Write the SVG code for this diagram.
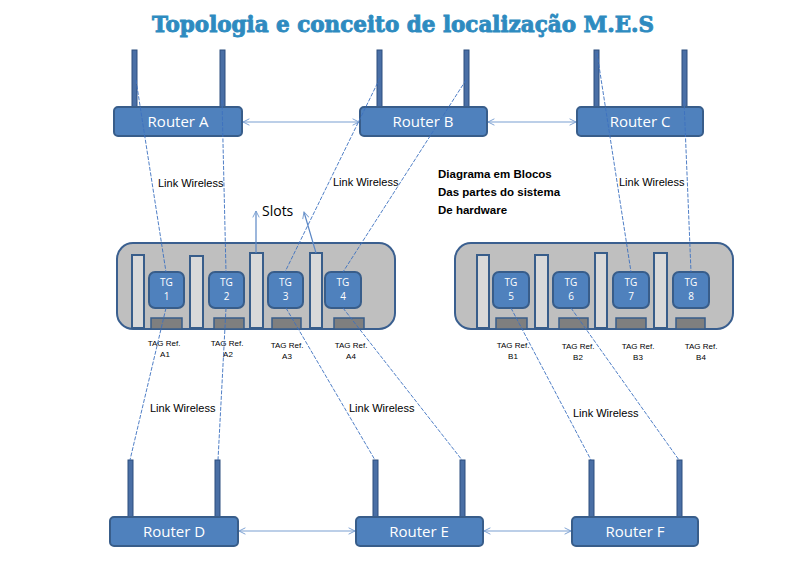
<svg xmlns="http://www.w3.org/2000/svg" width="806" height="570" viewBox="0 0 806 570">
<style>
.router{fill:#4f81bd;stroke:#385d8a;stroke-width:2}
.ant{fill:#4a6fa5;stroke:#2c4f7f;stroke-width:1}
.rtext{fill:#fff;font-family:"Open Sans","Liberation Sans",sans-serif;font-size:15px;text-anchor:middle}
.cont{fill:#bfbfbf;stroke:#3a5f8f;stroke-width:2}
.slot{fill:#d9d9d9;stroke:#385d8a;stroke-width:2}
.tg{fill:#4f81bd;stroke:#385d8a;stroke-width:2}
.tag{fill:#7f7f7f;stroke:#385d8a;stroke-width:1.5}
.tgt{fill:#fff;font-family:"Open Sans","Liberation Sans",sans-serif;font-size:10px;text-anchor:middle}
.ref{fill:#000;font-family:"Liberation Sans",sans-serif;font-size:8px;text-anchor:middle}
.lw{fill:#000;font-family:"Liberation Sans",sans-serif;font-size:11px}
.link{stroke:#3c70c0;stroke-width:0.9;stroke-dasharray:4 1.5;fill:none}
.bi{stroke:#7a9fd1;stroke-width:1.2;fill:none;marker-start:url(#open);marker-end:url(#open)}
.slotarrow{stroke:#5b87c5;stroke-width:1.2;fill:none;marker-end:url(#open)}
</style>
<defs>
<marker id="open" viewBox="0 0 10 10" refX="9" refY="5" markerWidth="8" markerHeight="8" orient="auto-start-reverse" markerUnits="userSpaceOnUse">
<path d="M1,1 L9,5 L1,9" fill="none" stroke="#7a9fd1" stroke-width="1.2"/>
</marker>
</defs>
<rect width="806" height="570" fill="#fff"/>
<text x="403" y="32" font-family="'DejaVu Serif',serif" font-weight="bold" font-size="22" fill="#2e8bc0" stroke="#2e8bc0" stroke-width="0.9" text-anchor="middle" textLength="502" lengthAdjust="spacingAndGlyphs">Topologia e conceito de localização M.E.S</text>

<g id="router-a">
<rect class="ant" x="132" y="50" width="5" height="58"/>
<rect class="ant" x="220" y="50" width="5" height="58"/>
<rect class="router" x="114" y="107" width="128" height="29" rx="4"/>
<text class="rtext" x="178" y="127">Router  A</text>
</g>
<g id="router-b">
<rect class="ant" x="377" y="50" width="5" height="58"/>
<rect class="ant" x="464" y="50" width="5" height="58"/>
<rect class="router" x="360" y="107" width="127" height="29" rx="4"/>
<text class="rtext" x="423" y="127">Router B</text>
</g>
<g id="router-c">
<rect class="ant" x="594" y="50" width="5" height="58"/>
<rect class="ant" x="682" y="50" width="5" height="58"/>
<rect class="router" x="577" y="107" width="126" height="29" rx="4"/>
<text class="rtext" x="640" y="127">Router C</text>
</g>

<g id="block-a">
<rect class="cont" x="117" y="243" width="278" height="86" rx="16"/>
<rect class="slot" x="132" y="255" width="12" height="73"/>
<rect class="slot" x="190" y="256" width="13" height="72"/>
<rect class="slot" x="250" y="253" width="13" height="75"/>
<rect class="slot" x="310" y="253" width="12" height="75"/>
</g>
<g id="tg1"><rect class="tg" x="149" y="272" width="35" height="36" rx="6"/><text class="tgt" x="166.5" y="286">TG</text><text class="tgt" x="166.5" y="300">1</text></g>
<g id="tg2"><rect class="tg" x="209" y="272" width="35" height="36" rx="6"/><text class="tgt" x="226.5" y="286">TG</text><text class="tgt" x="226.5" y="300">2</text></g>
<g id="tg3"><rect class="tg" x="268" y="272" width="35" height="36" rx="6"/><text class="tgt" x="285.5" y="286">TG</text><text class="tgt" x="285.5" y="300">3</text></g>
<g id="tg4"><rect class="tg" x="325" y="272" width="36" height="36" rx="6"/><text class="tgt" x="343" y="286">TG</text><text class="tgt" x="343" y="300">4</text></g>
<g id="tag-a1"><rect class="tag" x="151" y="318" width="31" height="11"/><text class="ref" x="164" y="346">TAG Ref.</text><text class="ref" x="165" y="357">A1</text></g>
<g id="tag-a2"><rect class="tag" x="214" y="318" width="30" height="11"/><text class="ref" x="227" y="346">TAG Ref.</text><text class="ref" x="228" y="357">A2</text></g>
<g id="tag-a3"><rect class="tag" x="272" y="318" width="29" height="11"/><text class="ref" x="287" y="348">TAG Ref.</text><text class="ref" x="287" y="359">A3</text></g>
<g id="tag-a4"><rect class="tag" x="334" y="318" width="30" height="11"/><text class="ref" x="351" y="348">TAG Ref.</text><text class="ref" x="351" y="359">A4</text></g>

<g id="block-b">
<rect class="cont" x="455" y="243" width="278" height="86" rx="16"/>
<rect class="slot" x="477" y="255" width="12" height="73"/>
<rect class="slot" x="535" y="255" width="13" height="73"/>
<rect class="slot" x="595" y="253" width="12" height="75"/>
<rect class="slot" x="654" y="253" width="13" height="75"/>
</g>
<g id="tg5"><rect class="tg" x="493" y="272" width="36" height="36" rx="6"/><text class="tgt" x="511" y="286">TG</text><text class="tgt" x="511" y="300">5</text></g>
<g id="tg6"><rect class="tg" x="553" y="272" width="36" height="36" rx="6"/><text class="tgt" x="571" y="286">TG</text><text class="tgt" x="571" y="300">6</text></g>
<g id="tg7"><rect class="tg" x="613" y="272" width="36" height="36" rx="6"/><text class="tgt" x="631" y="286">TG</text><text class="tgt" x="631" y="300">7</text></g>
<g id="tg8"><rect class="tg" x="673" y="272" width="36" height="36" rx="6"/><text class="tgt" x="691" y="286">TG</text><text class="tgt" x="691" y="300">8</text></g>
<g id="tag-b1"><rect class="tag" x="496" y="318" width="31" height="11"/><text class="ref" x="513" y="348">TAG Ref.</text><text class="ref" x="513" y="359">B1</text></g>
<g id="tag-b2"><rect class="tag" x="559" y="318" width="29" height="11"/><text class="ref" x="578" y="349">TAG Ref.</text><text class="ref" x="578" y="360">B2</text></g>
<g id="tag-b3"><rect class="tag" x="616" y="318" width="30" height="11"/><text class="ref" x="638" y="349">TAG Ref.</text><text class="ref" x="638" y="360">B3</text></g>
<g id="tag-b4"><rect class="tag" x="676" y="318" width="29" height="11"/><text class="ref" x="701" y="349">TAG Ref.</text><text class="ref" x="701" y="360">B4</text></g>

<g id="router-d">
<rect class="ant" x="128" y="460" width="5" height="58"/>
<rect class="ant" x="215" y="460" width="5" height="58"/>
<rect class="router" x="110" y="517" width="128" height="29" rx="4"/>
<text class="rtext" x="174" y="537">Router D</text>
</g>
<g id="router-e">
<rect class="ant" x="373" y="460" width="5" height="58"/>
<rect class="ant" x="460" y="460" width="5" height="58"/>
<rect class="router" x="356" y="517" width="127" height="29" rx="4"/>
<text class="rtext" x="419" y="537">Router E</text>
</g>
<g id="router-f">
<rect class="ant" x="589" y="460" width="5" height="58"/>
<rect class="ant" x="677" y="460" width="5" height="58"/>
<rect class="router" x="572" y="517" width="126" height="29" rx="4"/>
<text class="rtext" x="635" y="537">Router F</text>
</g>

<g id="connectors">
<line class="bi" x1="243" y1="122" x2="359" y2="122"/>
<line class="bi" x1="488" y1="122" x2="576" y2="122"/>
<line class="bi" x1="239" y1="531" x2="355" y2="531"/>
<line class="bi" x1="484" y1="531" x2="571" y2="531"/>
<line class="link" x1="136" y1="80" x2="166" y2="272"/>
<line class="link" x1="222" y1="100" x2="226" y2="272"/>
<line class="link" x1="380" y1="78" x2="285" y2="272"/>
<line class="link" x1="466" y1="80" x2="343" y2="272"/>
<line class="link" x1="597" y1="53" x2="631" y2="272"/>
<line class="link" x1="684" y1="100" x2="691" y2="272"/>
<line class="link" x1="166" y1="308" x2="130" y2="460"/>
<line class="link" x1="226" y1="308" x2="218" y2="460"/>
<line class="link" x1="286" y1="308" x2="375" y2="460"/>
<line class="link" x1="343" y1="308" x2="462" y2="460"/>
<line class="link" x1="511" y1="308" x2="591" y2="460"/>
<line class="link" x1="571" y1="308" x2="679" y2="460"/>
<line class="slotarrow" x1="256" y1="253" x2="256" y2="211"/>
<line class="slotarrow" x1="316" y1="253" x2="304" y2="212"/>
</g>

<text class="lw" x="158" y="187">Link Wireless</text>
<text class="lw" x="333" y="186">Link Wireless</text>
<text class="lw" x="619" y="186">Link Wireless</text>
<text class="lw" x="150" y="412">Link Wireless</text>
<text class="lw" x="349" y="412">Link Wireless</text>
<text class="lw" x="573" y="417">Link Wireless</text>
<text x="262" y="216" font-family="'Open Sans','Liberation Sans',sans-serif" font-size="14" fill="#000">Slots</text>
<g font-family="'Liberation Sans',sans-serif" font-size="11.5" font-weight="bold" fill="#000">
<text x="438" y="178">Diagrama em Blocos</text>
<text x="438" y="196">Das partes do sistema</text>
<text x="438" y="214">De hardware</text>
</g>
</svg>
